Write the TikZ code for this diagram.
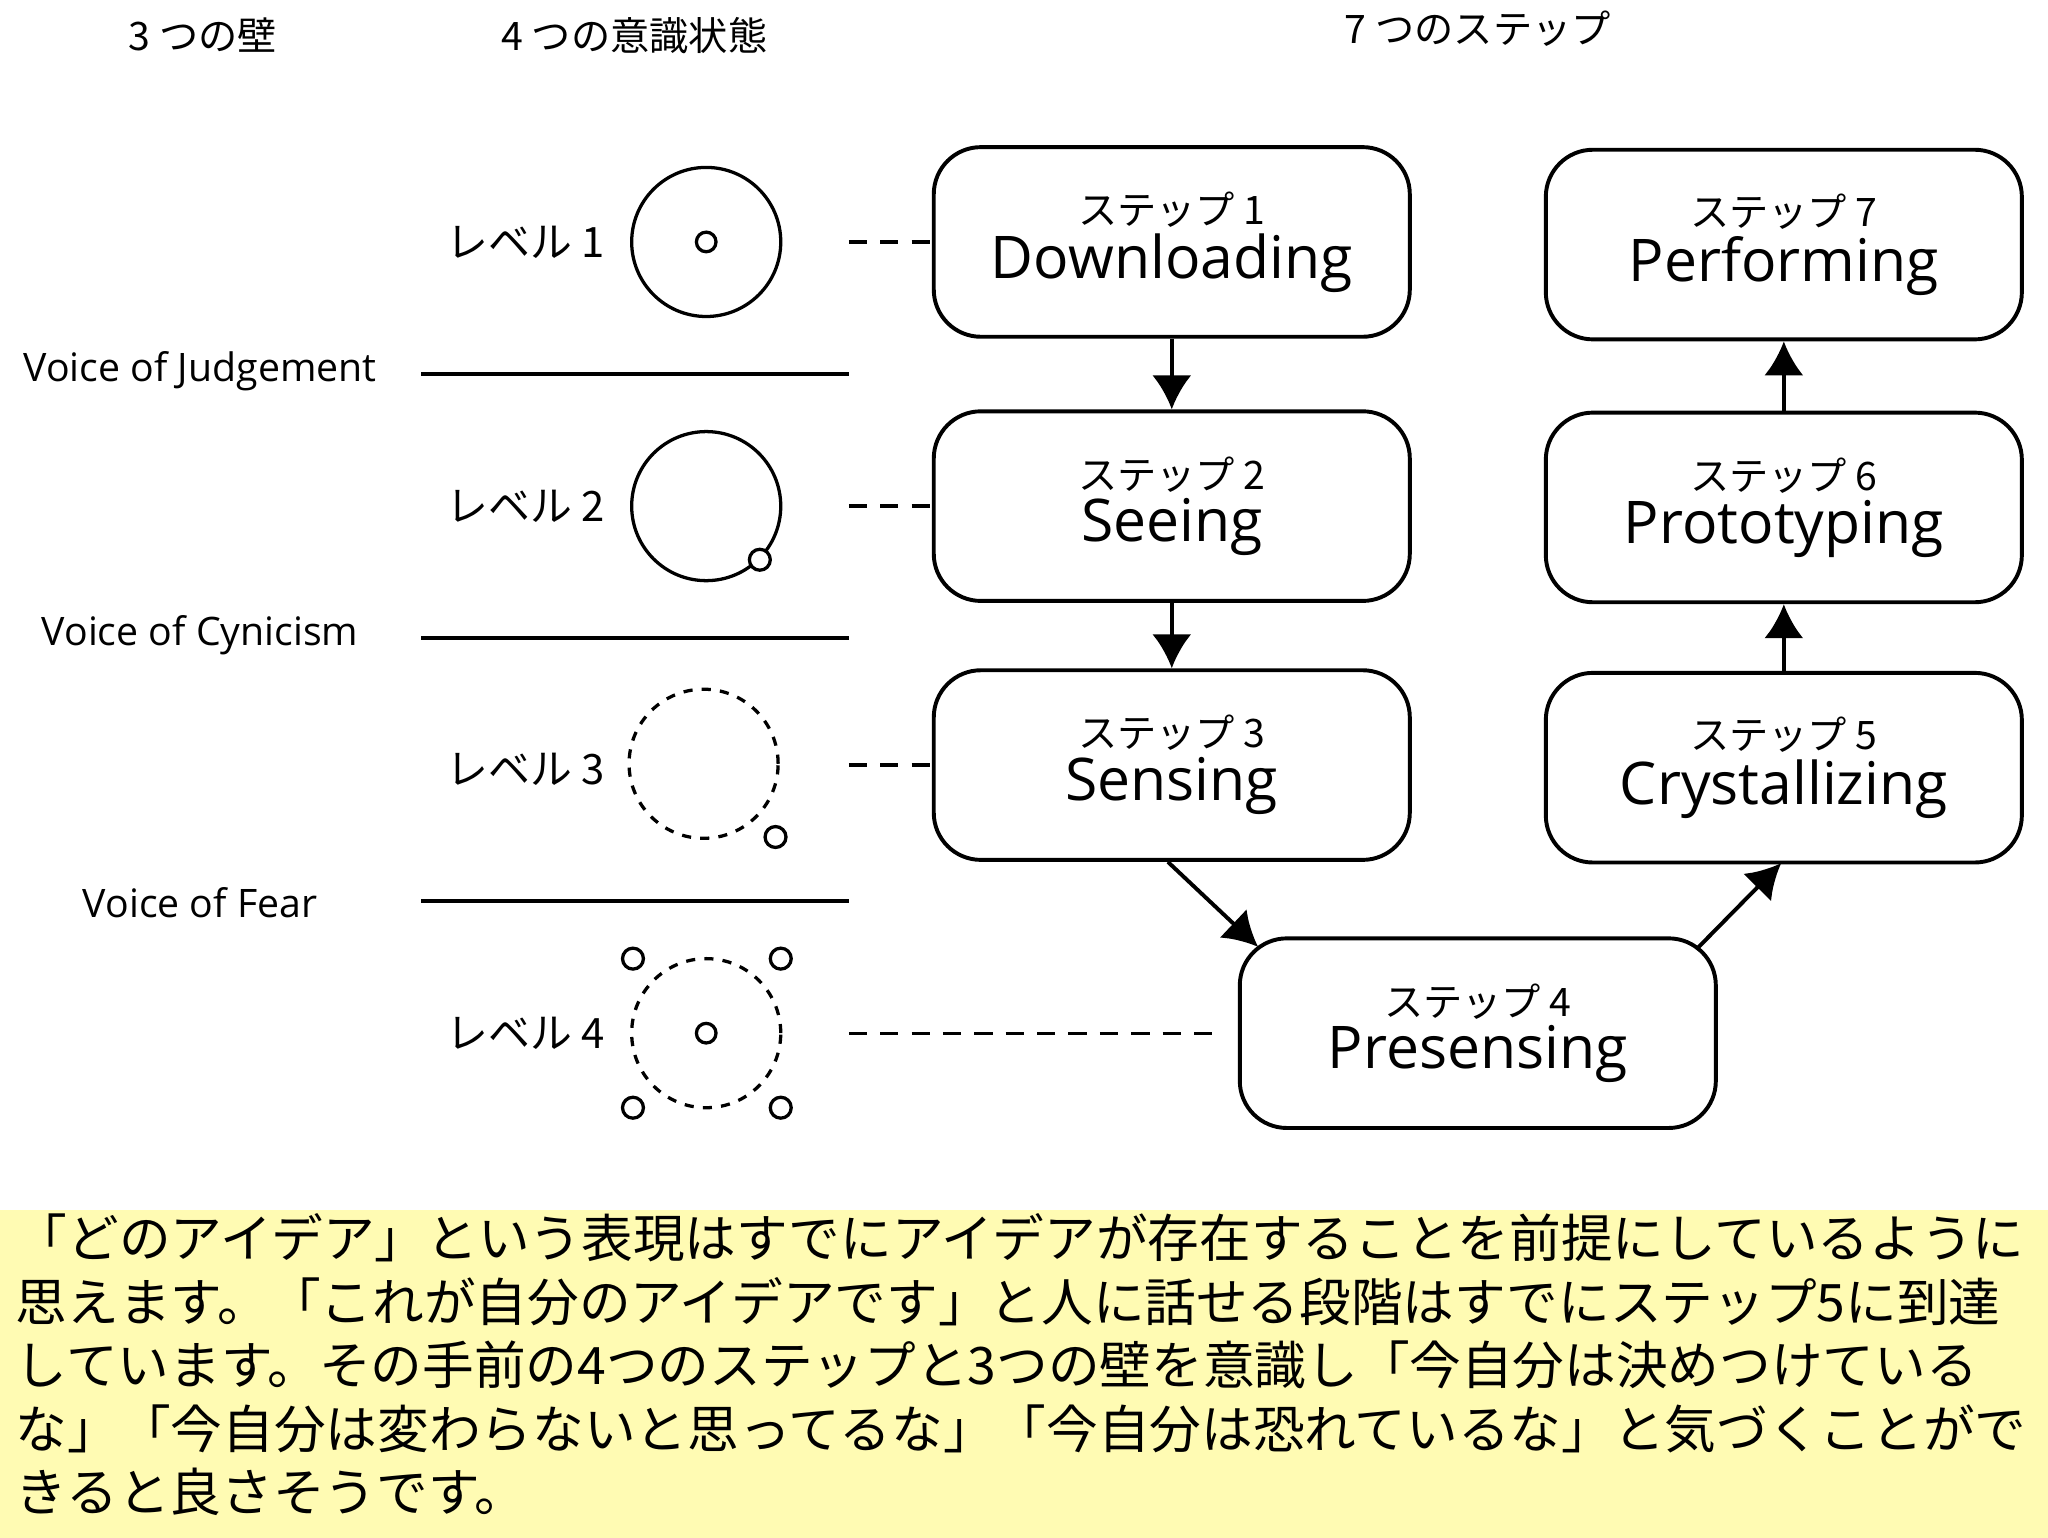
\documentclass[tikz,border=0pt]{standalone}
\usepackage{fontspec}
\setmainfont{Noto Sans CJK JP}
\newfontfamily\lat{Open Sans}
\usetikzlibrary{arrows.meta}
\begin{document}
\begin{tikzpicture}[x=1pt,y=-1pt,
 box/.style={draw,line width=3pt,rounded corners=36pt,minimum width=364pt,minimum height=145pt,align=center,inner sep=0pt},
 hd/.style={font=\fontsize{30}{34}\selectfont},
 lv/.style={font=\fontsize{32}{36}\selectfont},
 vc/.style={font=\lat\fontsize{30}{34}\selectfont},
 ring/.style={draw,line width=2.5pt},
 dring/.style={draw,line width=2.5pt,dash pattern=on 7pt off 7pt},
 dl/.style={line width=2.5pt,dash pattern=on 14pt off 10pt},
 wall/.style={line width=3pt},
 arr/.style={line width=3pt,-{Latex[length=26pt,width=30pt]}}]
\useasboundingbox (0,0) rectangle (1566,1176);
\fill[yellow!30!white] (0,925) rectangle (1566,1176);
\node[hd] (h1) at (155,27) {3 つの壁};
\node[hd] (h2) at (485,27) {4 つの意識状態};
\node[hd] (h3) at (1130,22) {7 つのステップ};
\newcommand{\bx}[4]{\node[box] (#1) at (#2) {\fontsize{30}{34}\selectfont ステップ #3\\[4pt]{\lat\fontsize{45}{50}\selectfont #4}};}
\bx{s1}{896,185}{1}{Downloading}
\bx{s2}{896,387}{2}{Seeing}
\bx{s3}{896,585}{3}{Sensing}
\bx{s4}{1130,790}{4}{Presensing}
\bx{s5}{1364,587}{5}{Crystallizing}
\bx{s6}{1364,388}{6}{Prototyping}
\bx{s7}{1364,187}{7}{Performing}
\foreach \i/\y in {1/185,2/387,3/588,4/790} \node[lv] (l\i) at (402,\y) {レベル \i};
\node[vc] (v1) at (153,284) {Voice of Judgement};
\node[vc] (v2) at (153,486) {Voice of Cynicism};
\node[vc] (v3) at (153,690) {Voice of Fear};
\foreach \y/\n in {286/1,488/2,689/3} {\coordinate (wa\n) at (322,\y); \coordinate (wb\n) at (649,\y); \draw[wall] (wa\n)--(wb\n);}
\node[ring,circle,minimum size=114pt] (c1) at (540,185) {};
\node[ring,circle,minimum size=15pt,inner sep=0] (c1s) at (540,185) {};
\node[ring,circle,minimum size=114pt] (c2) at (540,387) {};
\node[ring,circle,fill=white,minimum size=16pt,inner sep=0] (c2s) at (581,428) {};
\node[dring,circle,minimum size=114pt] (c3) at (538,584) {};
\node[ring,circle,fill=white,minimum size=16pt,inner sep=0] (c3s) at (593,640) {};
\node[dring,circle,minimum size=114pt] (c4) at (540,790) {};
\node[ring,circle,minimum size=15pt,inner sep=0] (c4s) at (540,790) {};
\foreach \p/\q [count=\k] in {484/733,597/733,484/847,597/847} \node[ring,circle,fill=white,minimum size=16pt,inner sep=0] (c4\k) at (\p,\q) {};
\coordinate (d1) at (649,185); \draw[dl] (d1)--(s1.west);
\coordinate (d2) at (649,387); \draw[dl] (d2)--(s2.west);
\coordinate (d3) at (649,585); \draw[dl] (d3)--(s3.west);
\coordinate (d4) at (649,790); \coordinate (d4e) at (928,790); \draw[dl] (d4)--(d4e);
\draw[arr] (s1)--(s2);
\draw[arr] (s2)--(s3);
\draw[arr] (893,659)--(962,724);
\draw[arr] (1297,726)--(1362,660);
\draw[arr] (s5)--(s6);
\draw[arr] (s6)--(s7);
\node[anchor=north west,align=left,inner sep=0,font=\fontsize{39.5}{48.5}\selectfont] (txt) at (12,928) {「どのアイデア」という表現はすでにアイデアが存在することを前提にしているように\\思えます。「これが自分のアイデアです」と人に話せる段階はすでにステップ5に到達\\しています。その手前の4つのステップと3つの壁を意識し「今自分は決めつけている\\な」「今自分は変わらないと思ってるな」「今自分は恐れているな」と気づくことがで\\きると良さそうです。};
\end{tikzpicture}
\end{document}
